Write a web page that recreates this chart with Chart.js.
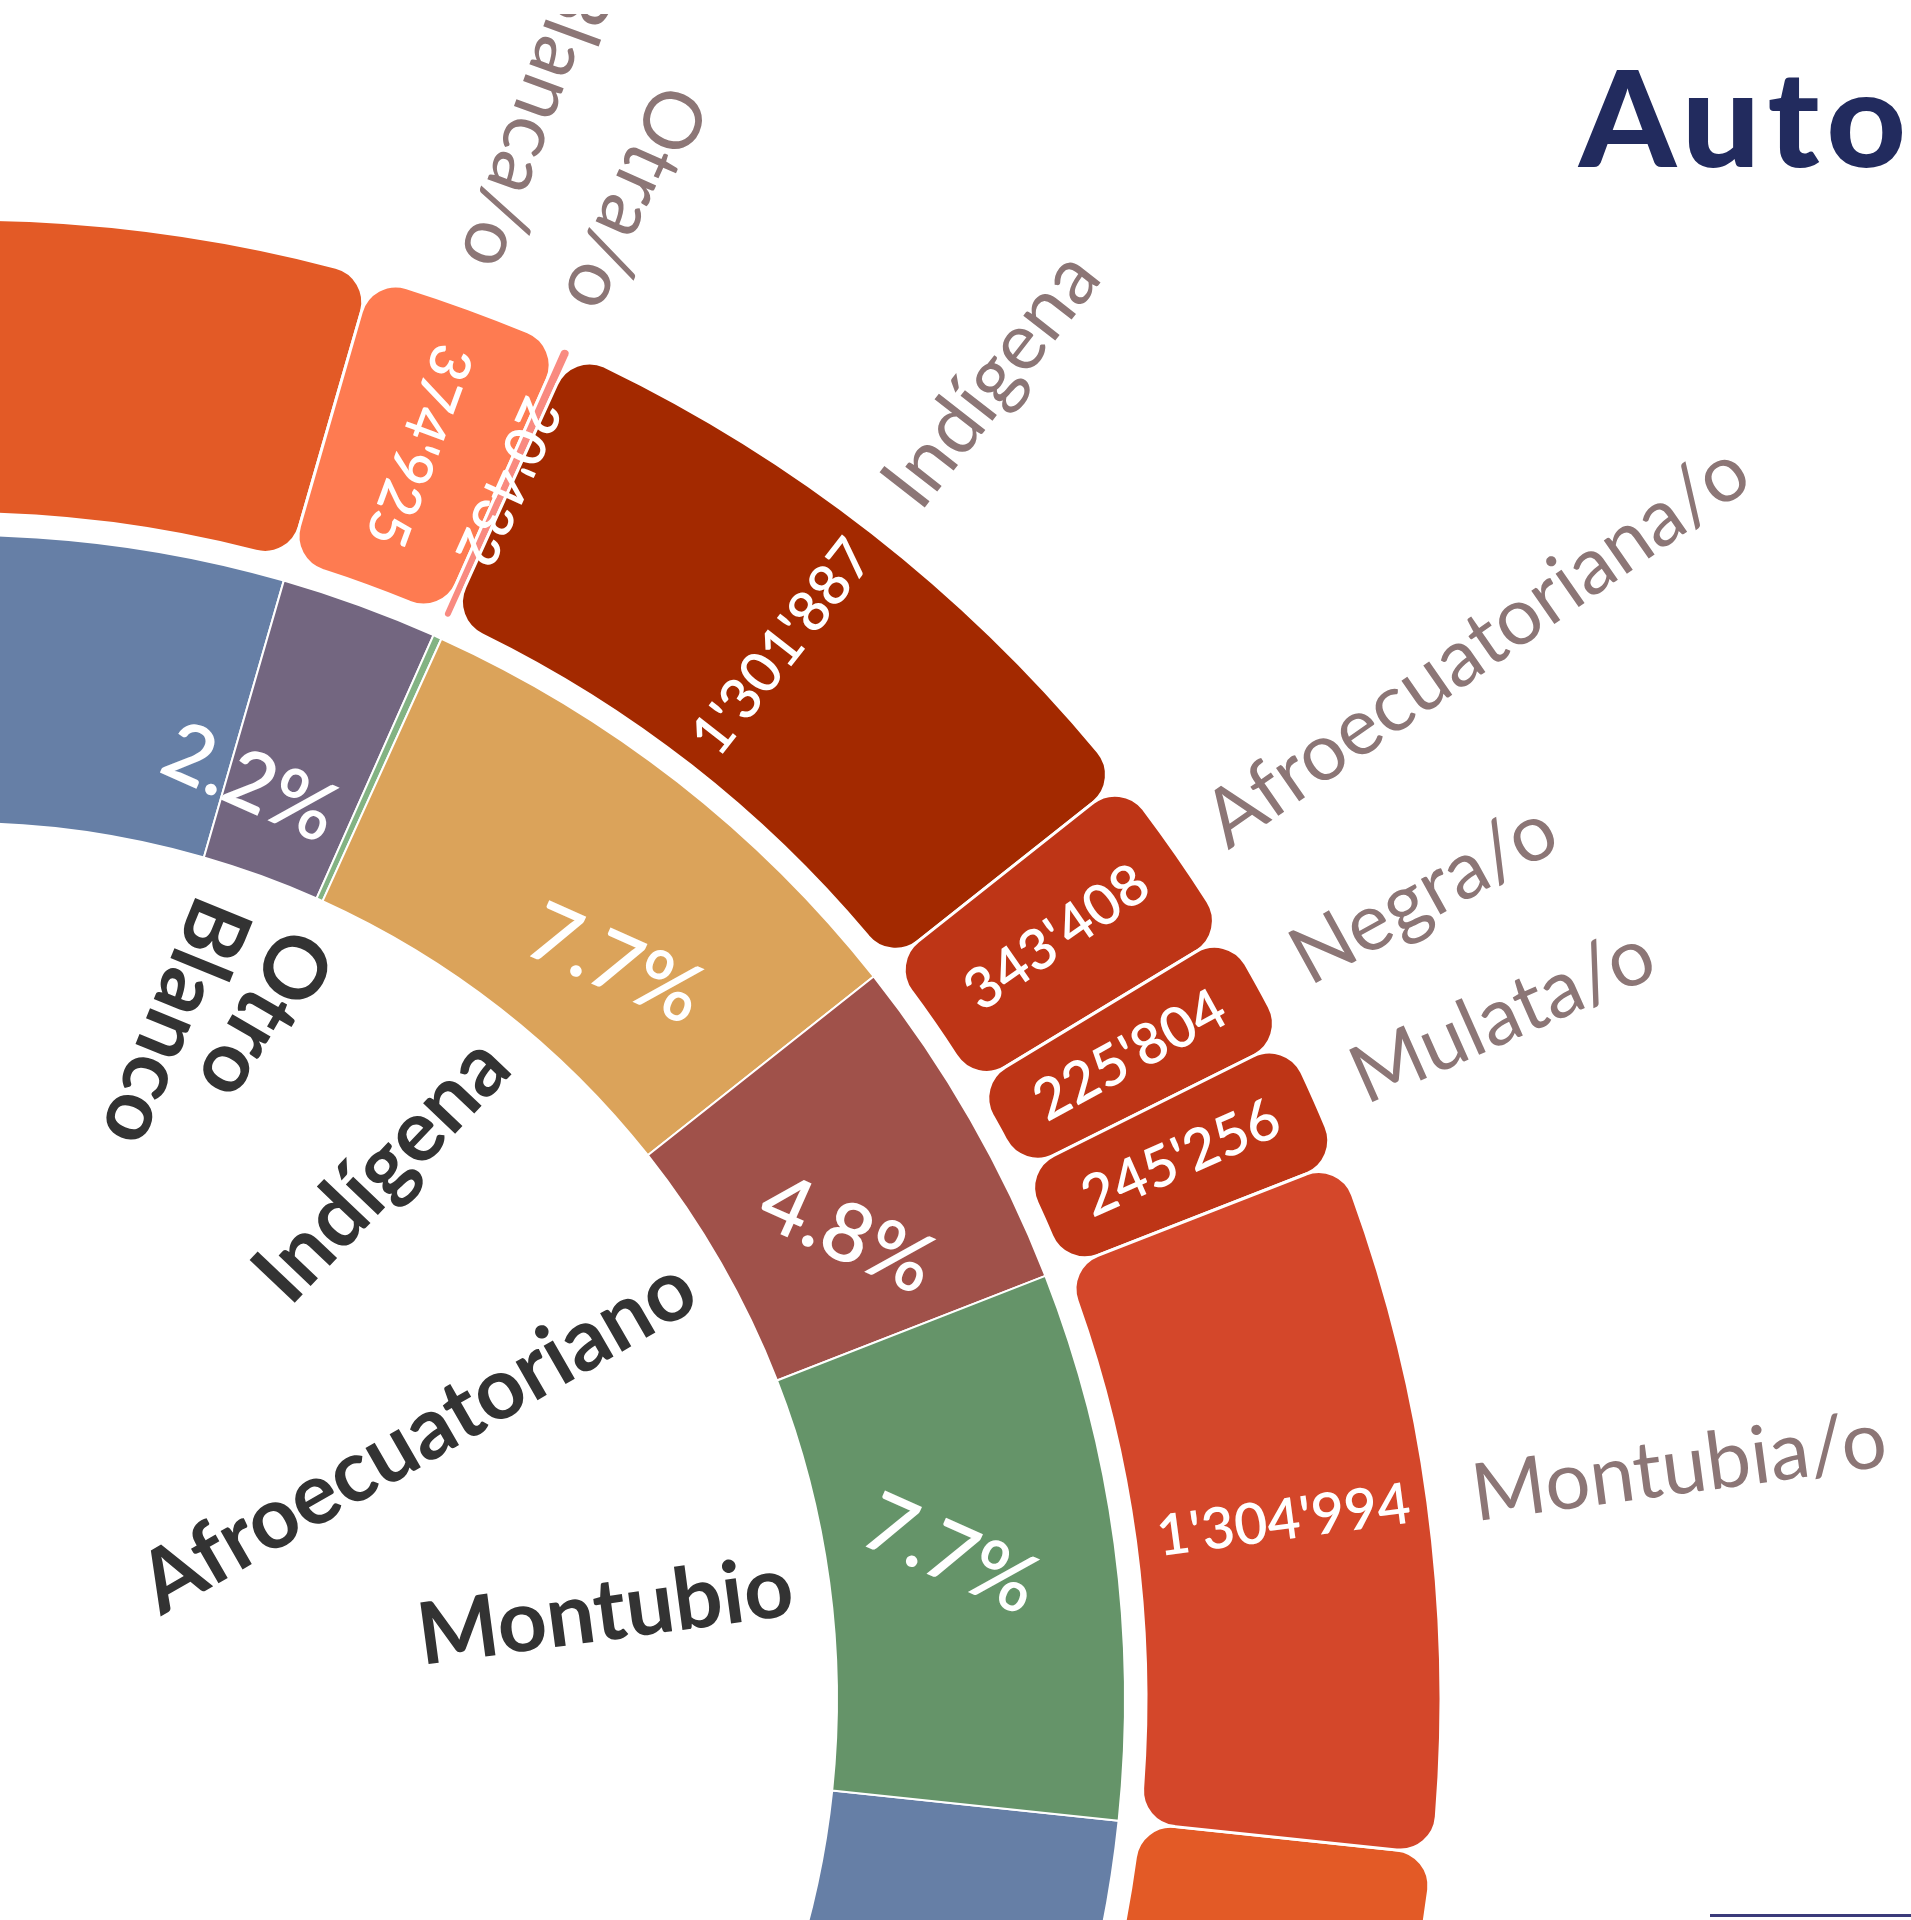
<!DOCTYPE html>
<html lang="es">
<head>
<meta charset="utf-8">
<title>Autoidentificación étnica</title>
<script src="https://cdn.jsdelivr.net/npm/chart.js@4.4.1/dist/chart.umd.min.js"></script>
<style>
  html, body { margin: 0; padding: 0; width: 1911px; height: 1920px; overflow: hidden; background: #fff; }
  #wrap { position: absolute; left: -1989px; top: 14px; width: 3900px; height: 3370px; }
  #title { position: absolute; left: 1579px; top: 49px; font: 900 133px Lato, sans-serif; line-height: 1; letter-spacing: 7px;
           transform: scaleX(1.04); transform-origin: 0 0; color: #222B5E; white-space: nowrap; }
  #rule { position: absolute; left: 1710px; top: 1914px; width: 201px; height: 3px; background: #3B3B7A; }
</style>
</head>
<body>
<div id="wrap"><canvas id="chart" width="3900" height="3370"></canvas></div>
<div id="title">Autoidentificación étnica</div>
<div id="rule"></div>
<script>
// outer ring: detailed self-identification (people); Mestiza/o is not printed, estimated from its arc
const outerLabels = ['Mestiza/o', 'Blanca/o', 'Otra/o', 'Indígena', 'Afroecuatoriana/o', 'Negra/o', 'Mulata/o', 'Montubia/o'];
const outerValues = [13380000, 374925, 20432, 1301887, 343408, 225804, 245256, 1304994];
const outerColors = ['#E35A26', '#FE7B51', '#F98A80', '#A32900', '#BE3516', '#BE3516', '#BE3516', '#D4472A'];

// inner ring: grouped categories; each outer slice belongs to one group
const innerLabels = ['Mestizo', 'Blanco', 'Otro', 'Indígena', 'Afroecuatoriano', 'Montubio'];
const innerPct = ['77.5%', '2.2%', '0.1%', '7.7%', '4.8%', '7.7%'];
const outerGroup = [0, 1, 2, 3, 4, 4, 4, 5];
const innerColors = ['#667FA6', '#736680', '#83B383', '#DBA35A', '#A0514A', '#659469'];

const innerValues = innerLabels.map((_, g) =>
  outerValues.reduce((s, v, i) => s + (outerGroup[i] === g ? v : 0), 0));

// hand placement as in the original: % labels [deg, px], inner names [deg, extra tilt deg]
const pctNudge = [[0, 0], [-2.5, -16], [0, 0], [3.7, 7], [2.2, 24], [-0.6, 24]];
const nameNudge = [[0, 0], [-1.8, 4], [0.4, 5.5], [1.5, 4], [0, 0], [0, 0]];

const FLIP_REF = 30 * Math.PI / 180;
const PCT_ROT = 24 * Math.PI / 180;
const DEG = Math.PI / 180;

function fmt(n) { return String(n).replace(/\B(?=(\d{3})+(?!\d))/g, "'"); }

function radialText(ctx, cx, cy, a, r, text, align, tilt = 0) {
  const flip = Math.cos(a - FLIP_REF) < 0;
  const mirror = { left: 'right', right: 'left', center: 'center' };
  ctx.save();
  ctx.translate(cx + Math.cos(a) * r, cy + Math.sin(a) * r);
  ctx.rotate((flip ? a + Math.PI : a) + tilt);
  ctx.textAlign = flip ? mirror[align] : align;
  ctx.textBaseline = 'middle';
  ctx.fillText(text, 0, 0);
  ctx.restore();
}

const ringLabels = {
  id: 'ringLabels',
  afterDatasetsDraw(chart) {
    const ctx = chart.ctx;
    const outer = chart.getDatasetMeta(0).data;
    const inner = chart.getDatasetMeta(2).data;

    outer.forEach((arc, i) => {
      const a = (arc.startAngle + arc.endAngle) / 2;
      ctx.fillStyle = '#8C7676';
      ctx.font = '400 80px Lato, sans-serif';
      radialText(ctx, arc.x, arc.y, a, arc.outerRadius + 45, outerLabels[i], 'left');
      ctx.fillStyle = '#fff';
      ctx.font = '600 57px Lato, sans-serif';
      radialText(ctx, arc.x, arc.y, a, (arc.innerRadius + arc.outerRadius) / 2 + 2, fmt(outerValues[i]), 'center');
    });

    inner.forEach((arc, i) => {
      const a = (arc.startAngle + arc.endAngle) / 2;
      ctx.fillStyle = '#333333';
      ctx.font = '700 86px Lato, sans-serif';
      radialText(ctx, arc.x, arc.y, a + nameNudge[i][0] * DEG, arc.innerRadius - 37,
                 innerLabels[i], 'right', nameNudge[i][1] * DEG);
      if (parseFloat(innerPct[i]) < 1) return;
      const b = a + pctNudge[i][0] * DEG;
      const r = arc.innerRadius + 100 + pctNudge[i][1];
      ctx.save();
      ctx.translate(arc.x + Math.cos(b) * r, arc.y + Math.sin(b) * r);
      ctx.rotate(PCT_ROT);
      ctx.fillStyle = '#fff';
      ctx.font = '600 82px Lato, sans-serif';
      ctx.textAlign = 'center';
      ctx.textBaseline = 'middle';
      ctx.fillText(innerPct[i], 0, 0);
      ctx.restore();
    });
  }
};

new Chart(document.getElementById('chart'), {
  type: 'doughnut',
  data: {
    labels: outerLabels,
    datasets: [
      { data: outerValues, backgroundColor: outerColors, borderColor: '#fff', borderWidth: 3, borderRadius: 36, weight: 295 },
      { data: [1], backgroundColor: 'rgba(0,0,0,0)', borderWidth: 0, weight: 21 },
      { data: innerValues, backgroundColor: innerColors, borderColor: '#fff', borderWidth: 2, weight: 288 }
    ]
  },
  options: {
    responsive: false,
    animation: false,
    devicePixelRatio: 1,
    events: [],
    rotation: 96.0,
    radius: 1480,
    cutout: '59.19%',
    layout: { padding: 0 },
    plugins: { legend: { display: false }, tooltip: { enabled: false } }
  },
  plugins: [ringLabels]
});
</script>
</body>
</html>
